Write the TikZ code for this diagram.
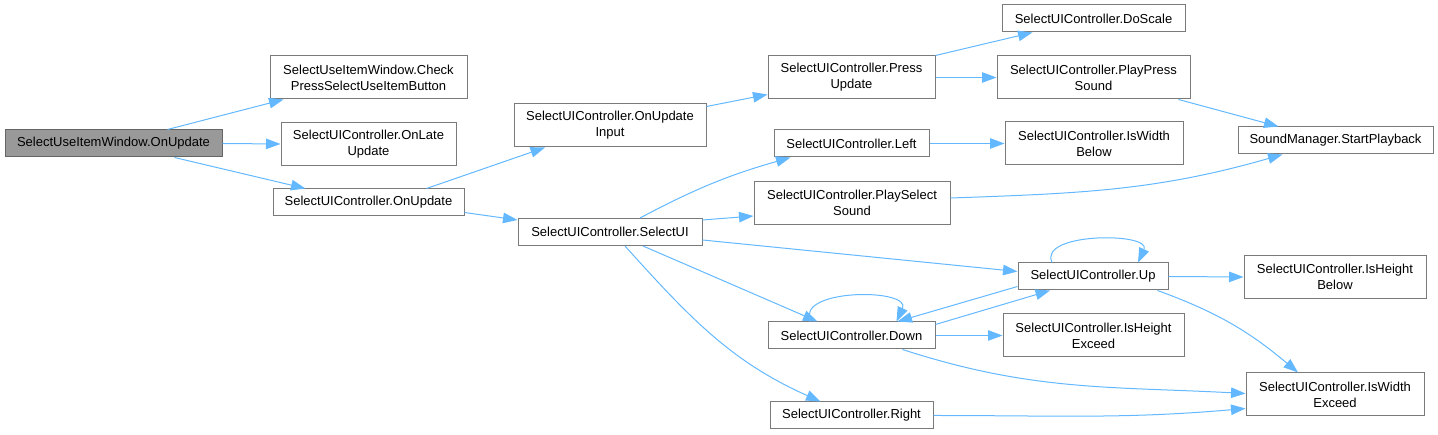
\documentclass[tikz,border=0pt]{standalone}
\usepackage{fontspec}
\setmainfont{Liberation Sans}
\usepackage{tikz}
\usetikzlibrary{positioning, arrows.meta}
\usepackage{xcolor}
\definecolor{callblue}{HTML}{63B8FF}
\definecolor{boxline}{HTML}{7A7A7A}

\begin{document}
\begin{tikzpicture}[x=1pt, y=1pt, font=\fontsize{13}{16}\selectfont,
  fn/.style={draw=boxline, line width=1pt, fill=white, inner sep=0pt, align=center, minimum height=27pt},
  tall/.style={minimum height=43pt},
  rootfn/.style={fn, fill=black!40, draw=black!60},
  call/.style={draw=callblue, line width=1pt, -{Triangle[length=14.5pt,width=10.5pt]}}]
  \useasboundingbox (0,0) rectangle (1438,435);

  \node[rootfn, minimum width=217pt] (root) at (113.5,291.5) {SelectUseItemWindow.OnUpdate};
  \node[fn, tall, minimum width=197pt] (check) at (368.5,357.5) {SelectUseItemWindow.Check\\PressSelectUseItemButton};
  \node[fn, tall, minimum width=175pt] (late) at (368.5,291) {SelectUIController.OnLate\\Update};
  \node[fn, minimum width=191pt] (onupd) at (368.5,232.5) {SelectUIController.OnUpdate};
  \node[fn, tall, minimum width=192pt] (input) at (610,309.5) {SelectUIController.OnUpdate\\Input};
  \node[fn, minimum width=184pt] (selectui) at (610,203) {SelectUIController.SelectUI};
  \node[fn, tall, minimum width=167pt] (press) at (851.5,357.5) {SelectUIController.Press\\Update};
  \node[fn, minimum width=155pt] (left) at (851.5,291.5) {SelectUIController.Left};
  \node[fn, tall, minimum width=196pt] (playsel) at (852,232) {SelectUIController.PlaySelect\\Sound};
  \node[fn, minimum width=167pt] (down) at (851.5,99.5) {SelectUIController.Down};
  \node[fn, minimum width=163pt] (right) at (851.5,19.5) {SelectUIController.Right};
  \node[fn, minimum width=183pt] (doscale) at (1093.5,416.5) {SelectUIController.DoScale};
  \node[fn, tall, minimum width=193pt] (playpress) at (1093.5,357.5) {SelectUIController.PlayPress\\Sound};
  \node[fn, tall, minimum width=178pt] (wbelow) at (1094,291.5) {SelectUIController.IsWidth\\Below};
  \node[fn, minimum width=150pt] (up) at (1093,158.5) {SelectUIController.Up};
  \node[fn, tall, minimum width=181pt] (hexceed) at (1093.5,99.5) {SelectUIController.IsHeight\\Exceed};
  \node[fn, minimum width=195pt] (sound) at (1335.5,294.5) {SoundManager.StartPlayback};
  \node[fn, tall, minimum width=182pt] (hbelow) at (1335,158) {SelectUIController.IsHeight\\Below};
  \node[fn, tall, minimum width=178pt] (wexceed) at (1335,40.5) {SelectUIController.IsWidth\\Exceed};

  \draw[call] ([xshift=54]root.north) -- ([xshift=-85]check.south);
  \draw[call] (root.east) -- (late.west);
  \draw[call] ([xshift=61]root.south) -- ([xshift=-63]onupd.north);
  \draw[call] ([xshift=58]onupd.north) -- ([xshift=-65]input.south);
  \draw[call] ([yshift=-10]onupd.east) -- ([yshift=-2]selectui.north west);
  \draw[call] ([yshift=19]input.east) -- ([yshift=-17]press.west);
  \draw[call] (press.north east) -- ([xshift=-61]doscale.south);
  \draw[call] (press.east) -- (playpress.west);
  \draw[call] ([xshift=-12]playpress.south east) -- ([xshift=-57]sound.north);
  \draw[call] ([xshift=30]selectui.north) to[bend left=6] ([xshift=-61]left.south);
  \draw[call] ([yshift=-2]selectui.north east) -- ([yshift=-13]playsel.west);
  \draw[call] ([yshift=-8]selectui.east) -- ([yshift=5]up.west);
  \draw[call] ([xshift=33]selectui.south) -- ([xshift=-34]down.north);
  \draw[call] ([xshift=15]selectui.south) to[out=-48, in=156] ([xshift=-31]right.north);
  \draw[call] (left.east) -- (wbelow.west);
  \draw[call] ([yshift=5]playsel.east) to[out=2, in=196] ([xshift=-53]sound.south);
  \draw[call] ([xshift=-41]up.north) to[out=115, in=65] ([xshift=45]up.north);
  \draw[call] (up.east) -- (hbelow.west);
  \draw[call] ([xshift=-11]up.south east) to[out=-20, in=140] ([xshift=-37]wexceed.north);
  \draw[call] ([yshift=-10]up.west) -- ([xshift=46]down.north);
  \draw[call] ([yshift=11]down.east) -- ([xshift=-43]up.south);
  \draw[call] ([xshift=-41]down.north) to[out=115, in=65, looseness=1.1] ([xshift=45]down.north);
  \draw[call] (down.east) -- (hexceed.west);
  \draw[call] ([xshift=51]down.south) to[out=-18, in=177] ([yshift=1]wexceed.west);
  \draw[call] (right.east) to[out=0, in=185] ([yshift=-14]wexceed.west);
\end{tikzpicture}
\end{document}
